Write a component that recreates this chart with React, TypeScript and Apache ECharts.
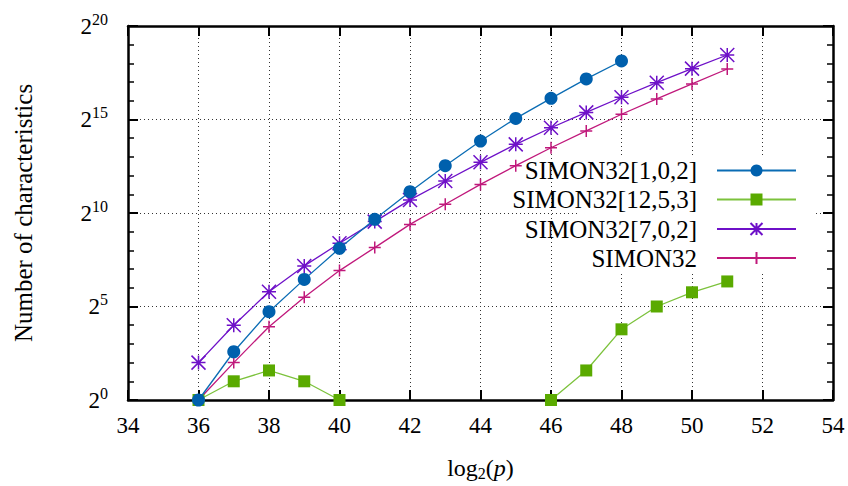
import React, { useEffect, useRef } from "react";
import * as echarts from "echarts";

const xs = [36, 37, 38, 39, 40, 41, 42, 43, 44, 45, 46, 47, 48, 49, 50, 51];
const simon102 = [0, 2.58, 4.72, 6.45, 8.11, 9.66, 11.14, 12.53, 13.85, 15.06, 16.13, 17.17, 18.13, null, null, null];
const simon1253 = [0, 1, 1.58, 1, 0, null, null, null, null, null, 0, 1.58, 3.78, 5, 5.76, 6.34];
const simon702 = [2, 4, 5.79, 7.17, 8.38, 9.54, 10.7, 11.71, 12.71, 13.67, 14.56, 15.38, 16.19, 16.97, 17.72, 18.45];
const simon32 = [0, 2, 3.92, 5.49, 6.92, 8.15, 9.39, 10.47, 11.53, 12.53, 13.49, 14.39, 15.28, 16.1, 16.9, 17.7];

const seriesNames = ["SIMON32[1,0,2]", "SIMON32[12,5,3]", "SIMON32[7,0,2]", "SIMON32"];
const xTicks = { min: 34, max: 54, step: 2 };
const yTicks = { min: 0, max: 20, step: 5 };

const FONT = "'Liberation Serif', 'DejaVu Serif', serif";
const ASTERISK = "path://M0 0L14 14M0 14L14 0M7 0L7 14M0 7L14 7";
const PLUS = "path://M7 0L7 14M0 7L14 7";

function toData(ys: (number | null)[]) {
  return xs.map((x, i) => [x, ys[i] === null ? "-" : ys[i]]);
}

export default function App() {
  const ref = useRef<HTMLDivElement>(null);
  useEffect(() => {
    if (!ref.current) return;
    const chart = echarts.init(ref.current, null, { renderer: "svg" });
    const gridLine = { show: true, lineStyle: { color: "#333", width: 1, type: [1, 3] as any } };
    const border = { show: true, onZero: false, lineStyle: { color: "#000", width: 2.5 } };
    const majorTick = { show: true, inside: true, length: 10, lineStyle: { color: "#000", width: 2 } };
    const yRich = {
      b: { fontFamily: FONT, fontSize: 23, lineHeight: 30, color: "#000" },
      s: { fontFamily: FONT, fontSize: 16, lineHeight: 22, verticalAlign: "top", color: "#000" },
    };
    const legendCenters = [170, 199, 228.5, 257.5];
    const colors = [
      { line: "#0a6cb4", mark: "#0060ad" },
      { line: "#7cc23c", mark: "#5aaa00" },
      { line: "#6e10c8", mark: "#6e10c8" },
      { line: "#c0187b", mark: "#c0187b" },
    ];
    const symbols = ["circle", "rect", ASTERISK, PLUS];
    const sizes = [13, 12, 14, 12];
    const values = [simon102, simon1253, simon702, simon32];

    chart.setOption({
      animation: false,
      textStyle: { fontFamily: FONT },
      grid: { left: 128, right: 15, top: 26, bottom: 86 },
      xAxis: [
        {
          type: "value",
          min: xTicks.min,
          max: xTicks.max,
          interval: xTicks.step,
          axisLine: border,
          axisTick: majorTick,
          splitLine: gridLine,
          axisLabel: { fontFamily: FONT, fontSize: 23, color: "#000", margin: 14 },
          name: "{r|log}{sub|2}{r|(}{i|p}{r|)}",
          nameLocation: "middle",
          nameGap: 55,
          nameTextStyle: {
            rich: {
              r: { fontFamily: FONT, fontSize: 24, lineHeight: 26, color: "#000" },
              sub: { fontFamily: FONT, fontSize: 16, lineHeight: 10, verticalAlign: "bottom", color: "#000" },
              i: { fontFamily: FONT, fontSize: 24, lineHeight: 26, fontStyle: "italic", color: "#000" },
            },
          },
        },
        {
          type: "value",
          position: "top",
          min: xTicks.min,
          max: xTicks.max,
          interval: xTicks.step,
          axisLine: border,
          axisTick: majorTick,
          splitLine: { show: false },
          axisLabel: { show: false },
        },
      ],
      yAxis: [
        {
          type: "value",
          min: yTicks.min,
          max: yTicks.max,
          interval: yTicks.step,
          axisLine: border,
          axisTick: majorTick,
          minorTick: { show: true, splitNumber: 5, length: 6, lineStyle: { color: "#000", width: 1.5 } },
          splitLine: gridLine,
          axisLabel: {
            margin: 20,
            formatter: (v: number) => `{b|2}{s|${v}}`,
            rich: yRich,
          },
          name: "Number of characteristics",
          nameLocation: "middle",
          nameGap: 92,
          nameTextStyle: { fontFamily: FONT, fontSize: 25, color: "#000" },
        },
        {
          type: "value",
          position: "right",
          min: yTicks.min,
          max: yTicks.max,
          interval: yTicks.step,
          axisLine: border,
          axisTick: majorTick,
          minorTick: { show: true, splitNumber: 5, length: 6, lineStyle: { color: "#000", width: 1.5 } },
          splitLine: { show: false },
          axisLabel: { show: false },
        },
      ],
      graphic: [
        {
          type: "rect",
          z: 1,
          shape: { x: 577, y: 155, width: 238, height: 117 },
          style: { fill: "#fff" },
          silent: true,
        },
      ],
      legend: seriesNames.map((n, i) => ({
        data: [n],
        right: 51,
        top: legendCenters[i] - 12,
        orient: "vertical",
        align: "right",
        padding: 0,
        itemWidth: 79,
        itemHeight: 15,
        textStyle: { fontFamily: FONT, fontSize: 25, lineHeight: 24, color: "#000", padding: [0, 15, 0, 0] },
        selectedMode: false,
      })),
      series: seriesNames.map((n, i) => ({
        name: n,
        type: "line",
        xAxisIndex: 0,
        yAxisIndex: 0,
        data: toData(values[i]),
        symbol: symbols[i],
        symbolSize: sizes[i],
        showAllSymbol: true,
        clip: false,
        connectNulls: false,
        lineStyle: { color: colors[i].line, width: 1.3 },
        itemStyle:
          i >= 2
            ? { color: colors[i].mark, borderColor: colors[i].mark, borderWidth: 1.5 }
            : { color: colors[i].mark, borderWidth: 0 },
        emphasis: { disabled: true },
        z: 3 + (3 - i),
      })),
    });
    return () => chart.dispose();
  }, []);
  return <div ref={ref} style={{ position: "absolute", left: 0, top: 0, width: 848, height: 486 }} />;
}
